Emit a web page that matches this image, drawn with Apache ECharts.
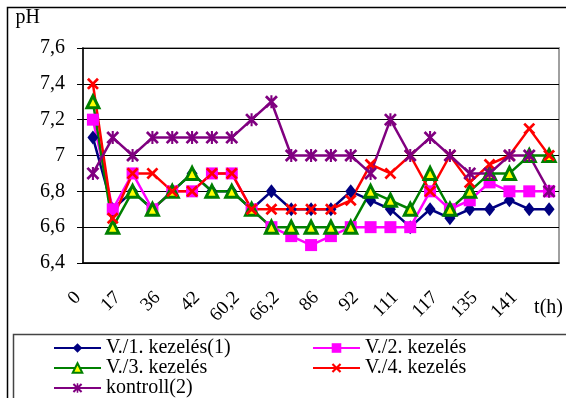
<!DOCTYPE html>
<html>
<head>
<meta charset="utf-8">
<script src="https://cdn.jsdelivr.net/npm/echarts@6/dist/echarts.min.js"></script>
<style>
html, body { margin: 0; padding: 0; background: #fff; }
#chart { width: 566px; height: 398px; }
</style>
</head>
<body>
<div id="chart"></div>
<script>
var myChart = echarts.init(document.getElementById('chart'));

// mérési időpontok (csak minden második felirat látszik)
var times = ['0', '', '17', '', '36', '', '42', '', '60,2', '', '66,2', '',
             '86', '', '92', '', '111', '', '117', '', '135', '', '141', ''];
var yTicks = [6.4, 6.6, 6.8, 7.0, 7.2, 7.4, 7.6];

var kezeles1 = [7.1, 6.7, 6.8, 6.7, 6.8, 6.9, 6.8, 6.8, 6.7, 6.8, 6.7, 6.7,
                6.7, 6.8, 6.75, 6.7, 6.6, 6.7, 6.65, 6.7, 6.7, 6.75, 6.7, 6.7];
var kezeles2 = [7.2, 6.7, 6.9, 6.7, 6.8, 6.8, 6.9, 6.9, 6.7, 6.6, 6.55, 6.5,
                6.55, 6.6, 6.6, 6.6, 6.6, 6.8, 6.7, 6.75, 6.85, 6.8, 6.8, 6.8];
var kezeles3 = [7.3, 6.6, 6.8, 6.7, 6.8, 6.9, 6.8, 6.8, 6.7, 6.6, 6.6, 6.6,
                6.6, 6.6, 6.8, 6.75, 6.7, 6.9, 6.7, 6.8, 6.9, 6.9, 7.0, 7.0];
var kezeles4 = [7.4, 6.65, 6.9, 6.9, 6.8, 6.8, 6.9, 6.9, 6.7, 6.7, 6.7, 6.7,
                6.7, 6.75, 6.95, 6.9, 7.0, 6.8, 7.0, 6.85, 6.95, 7.0, 7.15, 7.0];
var kontroll = [6.9, 7.1, 7.0, 7.1, 7.1, 7.1, 7.1, 7.1, 7.2, 7.3, 7.0, 7.0,
                7.0, 7.0, 6.9, 7.2, 7.0, 7.1, 7.0, 6.9, 6.9, 7.0, 7.0, 6.8];

var names = ['V./1. kezelés(1)', 'V./2. kezelés', 'V./3. kezelés', 'V./4. kezelés', 'kontroll(2)'];

// x és csillag jelölők
var xMark = 'path://M0,1.6L1.6,0L5,3.4L8.4,0L10,1.6L6.6,5L10,8.4L8.4,10L5,6.6L1.6,10L0,8.4L3.4,5Z';
var starMark = 'path://M0,1.5L1.5,0L5,3.5L8.5,0L10,1.5L6.5,5L10,8.5L8.5,10L5,6.5L1.5,10L0,8.5L3.5,5Z' +
               'M4.2,0L5.8,0L5.8,10L4.2,10Z';

var serif = '"Liberation Serif", "DejaVu Serif", serif';

function fmt(v) {
    return String(+(+v).toFixed(1)).replace('.', ',');
}

function line(name, data, color, symbol, size, extra) {
    var s = {
        name: name,
        type: 'line',
        data: data,
        symbol: symbol,
        symbolSize: size,
        lineStyle: { color: color, width: 2.5 },
        itemStyle: { color: color },
        animation: false
    };
    if (extra) {
        s.itemStyle = extra;
    }
    return s;
}

myChart.setOption({
    animation: false,
    textStyle: { fontFamily: serif },
    grid: {
        left: 83,
        right: 4,
        top: 48,
        bottom: 135,
        show: true,
        borderColor: '#a0a0a0',
        borderWidth: 2
    },
    legend: [
        {
            data: [names[0], names[2], names[4]],
            orient: 'vertical',
            left: 53,
            top: 338,
            padding: 0,
            itemGap: 0,
            itemWidth: 47,
            itemHeight: 12,
            textStyle: { fontFamily: serif, fontSize: 20, color: '#000', lineHeight: 20 }
        },
        {
            data: [names[1], names[3]],
            orient: 'vertical',
            left: 312,
            top: 338,
            padding: 0,
            itemGap: 0,
            itemWidth: 47,
            itemHeight: 12,
            textStyle: { fontFamily: serif, fontSize: 20, color: '#000', lineHeight: 20 }
        }
    ],
    xAxis: {
        type: 'category',
        data: times,
        boundaryGap: true,
        name: 't(h)',
        nameLocation: 'end',
        nameGap: 4,
        nameTextStyle: {
            fontFamily: serif, fontSize: 20, color: '#000',
            align: 'right', verticalAlign: 'top', padding: [35, 0, 0, 0]
        },
        axisLine: { lineStyle: { color: '#000', width: 1.5 } },
        axisTick: { interval: 0, length: 6, lineStyle: { color: '#000' } },
        axisLabel: {
            interval: 0,
            rotate: 45,
            margin: 17,
            padding: [0, 21, 0, 0],
            fontFamily: serif,
            fontSize: 19,
            color: '#000'
        }
    },
    yAxis: {
        type: 'value',
        min: yTicks[0],
        max: yTicks[yTicks.length - 1],
        interval: 0.2,
        name: 'pH',
        nameLocation: 'end',
        nameGap: 20,
        nameTextStyle: {
            fontFamily: serif, fontSize: 20, color: '#000',
            align: 'right', padding: [0, 43, 0, 0]
        },
        axisLine: { show: true, lineStyle: { color: '#000', width: 1.5 } },
        axisTick: { show: true, length: 6, lineStyle: { color: '#000' } },
        splitLine: { lineStyle: { color: '#000', width: 1 } },
        axisLabel: {
            margin: 18,
            fontFamily: serif,
            fontSize: 20,
            color: '#000',
            formatter: fmt
        }
    },
    graphic: [
        {
            type: 'rect',
            shape: { x: 7.5, y: 7.5, width: 700, height: 500 },
            style: { fill: 'none', stroke: '#000', lineWidth: 1.5 },
            silent: true
        },
        {
            type: 'rect',
            shape: { x: 13.5, y: 334.5, width: 700, height: 200 },
            style: { fill: 'none', stroke: '#444', lineWidth: 1.5 },
            silent: true
        }
    ],
    series: [
        line(names[0], kezeles1, '#000080', 'diamond', [11, 14]),
        line(names[1], kezeles2, '#ff00ff', 'rect', 12),
        line(names[2], kezeles3, '#008000', 'triangle', 12,
             { color: '#ffff00', borderColor: '#008000', borderWidth: 3 }),
        line(names[3], kezeles4, '#ff0000', xMark, 12),
        line(names[4], kontroll, '#800080', starMark, 13)
    ]
});
</script>
</body>
</html>
